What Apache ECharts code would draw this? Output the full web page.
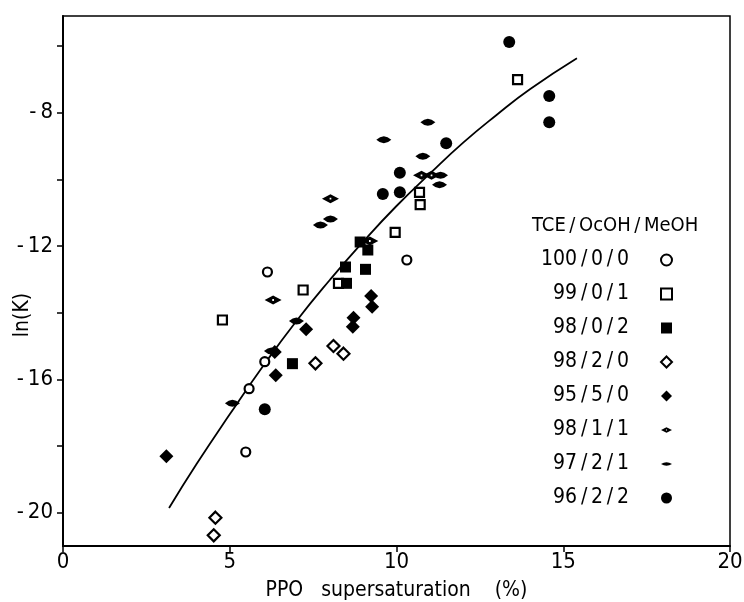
<!DOCTYPE html>
<html><head><meta charset="utf-8">
<script src="https://cdn.jsdelivr.net/npm/echarts@6/dist/echarts.min.js"></script>
<style>html,body{margin:0;padding:0;background:#fff}#c{width:744px;height:602px}</style>
</head><body><div id="c"></div>
<script>
const FONT = '"DejaVu Sans Condensed", "Liberation Sans Narrow", "DejaVu Sans", sans-serif';

// axis ticks / labels
const xTickValues = [0, 5, 10, 15, 20];
const yLabelValues = [-20, -16, -12, -8];
const yTickValues = [-20, -18, -16, -14, -12, -10, -8, -6];
const xTitle = 'PPO   supersaturation    (%)';
const yTitle = 'ln(K)';
const legendTitle = 'TCE\u2009/\u2009OcOH\u2009/\u2009MeOH';

// series names (TCE / OcOH / MeOH)
const names = ['100\u2009/\u20090\u2009/\u20090', '99\u2009/\u20090\u2009/\u20091', '98\u2009/\u20090\u2009/\u20092', '98\u2009/\u20092\u2009/\u20090',
               '95\u2009/\u20095\u2009/\u20090', '98\u2009/\u20091\u2009/\u20091', '97\u2009/\u20092\u2009/\u20091', '96\u2009/\u20092\u2009/\u20092'];

// data: [supersaturation %, ln(K)]
const d100_0_0 = [[6.13, -12.78], [10.31, -12.42], [5.58, -16.28], [5.48, -18.18], [6.05, -15.47]];
const d99_0_1 = [[4.78, -14.22], [7.20, -13.32], [8.26, -13.12], [9.96, -11.59], [10.69, -10.39], [10.71, -10.76], [13.63, -7.01]];
const d98_0_2 = [[6.88, -15.53], [8.47, -12.63], [8.50, -13.12], [8.91, -11.88], [9.14, -12.12], [9.07, -12.70]];
const d98_2_0 = [[7.57, -15.52], [8.11, -15.00], [8.41, -15.23], [4.57, -20.15], [4.52, -20.68]];
const d95_5_0 = [[3.10, -18.31], [6.38, -15.88], [6.35, -15.18], [7.29, -14.50], [8.69, -14.42], [8.71, -14.15], [9.24, -13.50], [9.27, -13.82]];
const d98_1_1 = [[6.30, -13.62], [8.02, -10.58], [9.20, -11.85], [10.75, -9.88], [11.05, -9.88]];
const d97_2_1 = [[5.08, -16.72], [7.00, -14.25], [7.72, -11.37], [8.02, -11.19], [9.62, -8.81], [10.94, -8.29], [10.79, -9.31], [11.29, -10.16], [11.32, -9.88], [6.25, -15.15]];
const d96_2_2 = [[13.38, -5.88], [14.58, -7.50], [14.58, -8.29], [11.49, -8.92], [10.10, -9.80], [10.10, -10.39], [9.59, -10.44], [6.05, -16.90]];

// fitted curve
const curve = [[3.18, -19.86], [4.0, -18.55], [5.0, -17.05], [6.0, -15.6], [7.0, -14.25], [8.0, -13.02], [9.0, -11.87],
               [10.0, -10.8], [11.0, -9.83], [12.0, -8.9], [13.0, -8.07], [14.0, -7.3], [15.41, -6.37]];

const eyePath = 'path://M0,5L10,0L20,5L10,10Z M9,4L9,6L11,6L11,4Z';
const lensPath = 'path://M0,4Q10,-2 20,4Q10,10 0,4Z';

const styles = [
  {data: d100_0_0, symbol: 'circle', size: 9, fill: '#fff', bw: 2.2},
  {data: d99_0_1, symbol: 'rect', size: 9, fill: '#fff', bw: 2.2},
  {data: d98_0_2, symbol: 'rect', size: 11, fill: '#000', bw: 0},
  {data: d98_2_0, symbol: 'diamond', size: 12, fill: '#fff', bw: 2.2},
  {data: d95_5_0, symbol: 'diamond', size: 14, fill: '#000', bw: 0},
  {data: d98_1_1, symbol: eyePath, size: [17, 9], fill: '#000', bw: 0},
  {data: d97_2_1, symbol: lensPath, size: [15, 7], fill: '#000', bw: 0},
  {data: d96_2_2, symbol: 'circle', size: 12, fill: '#000', bw: 0}
];

const series = styles.map((s, i) => ({
  name: names[i], type: 'scatter', data: s.data, symbol: s.symbol, symbolSize: s.size,
  itemStyle: {color: s.fill, borderColor: '#000', borderWidth: s.bw, opacity: 1},
  emphasis: {disabled: true}, z: 3
}));
series.push({
  name: 'fit', type: 'line', data: curve, smooth: true, showSymbol: false, symbol: 'none',
  lineStyle: {color: '#000', width: 1.8}, z: 2, silent: true
});

const chart = echarts.init(document.getElementById('c'));
chart.setOption({
  animation: false,
  backgroundColor: '#fff',
  title: {text: legendTitle, left: 527, top: 211,
    textStyle: {fontFamily: FONT, fontSize: 20, fontWeight: 'normal', color: '#000'}},
  legend: {
    data: names, orient: 'vertical', align: 'right', right: 66, top: 243,
    itemWidth: 11, itemHeight: 11, itemGap: 10,
    textStyle: {fontFamily: FONT, fontSize: 21, color: '#000', lineHeight: 24, padding: [0, 27, 0, 0]},
    selectedMode: false
  },
  grid: {left: 63, right: 14, top: 16, bottom: 56, show: true, borderColor: '#000', borderWidth: 1.5,
    containLabel: false, outerBoundsMode: 'none'},
  xAxis: {
    type: 'value', min: 0, max: 20, interval: 5,
    name: xTitle, nameLocation: 'middle', nameGap: 34, nameMoveOverlap: false,
    nameTextStyle: {fontFamily: FONT, fontSize: 21, color: '#000'},
    axisLine: {lineStyle: {color: '#000', width: 2}},
    axisTick: {show: true, inside: false, length: 6, lineStyle: {color: '#000', width: 1.5}},
    axisLabel: {fontFamily: FONT, fontSize: 22, color: '#000', margin: 5},
    splitLine: {show: false}
  },
  yAxis: {
    type: 'value', min: -21, max: -5.1,
    name: yTitle, nameLocation: 'middle', nameGap: 30, nameRotate: 90, nameMoveOverlap: false,
    nameTextStyle: {fontFamily: FONT, fontSize: 21, color: '#000', padding: [0, 68, 0, 0]},
    axisLine: {lineStyle: {color: '#000', width: 2}},
    axisTick: {show: true, inside: false, length: 6, customValues: yTickValues, lineStyle: {color: '#000', width: 1.5}},
    axisLabel: {fontFamily: FONT, fontSize: 22, color: '#000', margin: 10, customValues: yLabelValues,
      formatter: v => String(v).replace('-', '-\u2009')},
    splitLine: {show: false}
  },
  series: series
});
</script></body></html>
